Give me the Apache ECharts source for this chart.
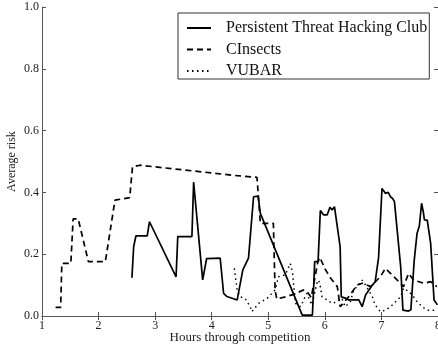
<!DOCTYPE html>
<html>
<head>
<meta charset="utf-8">
<script src="https://cdn.jsdelivr.net/npm/echarts@6/dist/echarts.min.js"></script>
<style>
  html, body { margin: 0; padding: 0; background: #fff; }
  #chart { width: 438px; height: 346px; }
</style>
</head>
<body>
<div id="chart"></div>
<script>
// Persistent Threat Hacking Club (solid)
var ptcHours = [2.59,2.62,2.66,2.86,2.90,3.37,3.40,3.65,3.68,3.84,3.91,4.15,4.21,4.27,4.45,4.47,4.55,4.65,4.74,4.82,4.86,5.60,5.78,5.80,5.82,5.88,5.92,5.98,6.04,6.09,6.13,6.17,6.20,6.27,6.29,6.36,6.42,6.60,6.66,6.72,6.78,6.84,6.89,6.95,7.01,7.07,7.12,7.16,7.20,7.23,7.34,7.38,7.48,7.52,7.58,7.63,7.67,7.71,7.74,7.76,7.81,7.87,7.93,7.99];
var ptcRisk  = [0.124,0.224,0.259,0.259,0.305,0.127,0.257,0.257,0.433,0.117,0.186,0.187,0.073,0.063,0.052,0.052,0.149,0.187,0.386,0.388,0.332,0.003,0.003,0.084,0.176,0.176,0.341,0.327,0.327,0.352,0.343,0.354,0.354,0.224,0.062,0.058,0.052,0.052,0.03,0.068,0.084,0.10,0.111,0.19,0.413,0.397,0.40,0.386,0.38,0.37,0.16,0.019,0.016,0.02,0.181,0.268,0.291,0.365,0.337,0.311,0.31,0.235,0.052,0.036];

// CInsects (dashed)
var ciHours = [1.24,1.33,1.35,1.51,1.55,1.64,1.82,2.12,2.29,2.55,2.60,2.73,4.45,4.80,4.86,5.09,5.12,5.15,5.30,5.45,5.62,5.68,5.76,5.87,5.91,6.01,6.10,6.22,6.27,6.42,6.57,6.66,6.81,6.98,7.07,7.16,7.28,7.39,7.48,7.57,7.75,7.87,7.98];
var ciRisk  = [0.028,0.028,0.17,0.17,0.314,0.314,0.176,0.176,0.375,0.383,0.483,0.488,0.454,0.449,0.30,0.30,0.084,0.055,0.062,0.07,0.084,0.08,0.06,0.17,0.19,0.15,0.123,0.095,0.03,0.062,0.10,0.106,0.095,0.127,0.154,0.138,0.116,0.095,0.138,0.116,0.106,0.111,0.095];

// VUBAR (dotted)
var vuHours = [4.40,4.45,4.50,4.59,4.68,4.71,4.83,4.98,5.12,5.18,5.30,5.39,5.43,5.48,5.57,5.68,5.77,5.86,5.89,5.92,5.95,6.04,6.13,6.22,6.30,6.36,6.45,6.51,6.57,6.66,6.72,6.84,6.89,6.98,7.07,7.16,7.25,7.34,7.39,7.48,7.57,7.63,7.72,7.81,7.93,7.98];
var vuRisk  = [0.154,0.084,0.062,0.057,0.03,0.014,0.041,0.057,0.084,0.127,0.133,0.17,0.138,0.041,0.03,0.073,0.036,0.106,0.116,0.095,0.062,0.052,0.041,0.046,0.057,0.03,0.046,0.084,0.095,0.116,0.10,0.062,0.036,0.014,0.019,0.03,0.046,0.062,0.09,0.08,0.062,0.046,0.03,0.019,0.019,0.025];

var teams = ['Persistent Threat Hacking Club', 'CInsects', 'VUBAR'];
var xTicks = [1, 2, 3, 4, 5, 6, 7, 8];
var yTicks = ['0.0', '0.2', '0.4', '0.6', '0.8', '1.0'];

var FONT = '"Liberation Serif", "DejaVu Serif", serif';

function pairs(xs, ys) {
    return xs.map(function (x, i) { return [x, ys[i]]; });
}

var chart = echarts.init(document.getElementById('chart'));

var axisBase = {
    axisLine: { show: true, lineStyle: { color: '#555', width: 1 } },
    axisTick: { show: true, inside: true, length: 4, lineStyle: { color: '#555' } },
    splitLine: { show: false }
};

var option = {
    animation: false,
    backgroundColor: '#fff',
    grid: { left: 42, right: 0, top: 7, bottom: 30, containLabel: false, outerBoundsMode: 'none' },
    legend: {
        data: teams,
        orient: 'vertical',
        left: 178,
        top: 13,
        padding: [7, 2, 0, 8],
        itemWidth: 24,
        itemHeight: 14,
        itemGap: 5.5,
        borderColor: '#333',
        borderWidth: 1,
        backgroundColor: '#fff',
        itemStyle: { opacity: 0 },
        textStyle: { fontFamily: FONT, fontSize: 16, color: '#111', padding: [0, 0, 0, 10] }
    },
    xAxis: [
        Object.assign({}, axisBase, {
            type: 'value', min: 1, max: 8, interval: 1,
            name: 'Hours through competition',
            nameLocation: 'middle', nameGap: 15, nameMoveOverlap: false,
            nameTextStyle: { fontFamily: FONT, fontSize: 13, color: '#222' },
            axisLabel: { fontFamily: FONT, fontSize: 12, color: '#222', margin: 4,
                formatter: function (v) { return xTicks.indexOf(v) >= 0 ? String(v) : ''; } }
        }),
        Object.assign({}, axisBase, {
            type: 'value', min: 1, max: 8, interval: 1, position: 'top',
            axisLabel: { show: false }
        })
    ],
    yAxis: [
        Object.assign({}, axisBase, {
            type: 'value', min: 0, max: 1, interval: 0.2,
            name: 'Average risk',
            nameLocation: 'middle', nameGap: 24, nameMoveOverlap: false,
            nameTextStyle: { fontFamily: FONT, fontSize: 12, color: '#222' },
            axisLabel: { fontFamily: FONT, fontSize: 12, color: '#222', margin: 3,
                formatter: function (v) { return yTicks[Math.round(v / 0.2)]; } }
        }),
        Object.assign({}, axisBase, {
            type: 'value', min: 0, max: 1, interval: 0.2, position: 'right',
            axisLabel: { show: false }
        })
    ],
    series: [
        {
            name: teams[0], type: 'line', symbol: 'none',
            data: pairs(ptcHours, ptcRisk),
            lineStyle: { color: '#000', width: 1.7, type: 'solid' },
            itemStyle: { color: '#000' }
        },
        {
            name: teams[1], type: 'line', symbol: 'none',
            data: pairs(ciHours, ciRisk),
            lineStyle: { color: '#000', width: 1.7, type: [6, 4] },
            itemStyle: { color: '#000' }
        },
        {
            name: teams[2], type: 'line', symbol: 'none',
            data: pairs(vuHours, vuRisk),
            lineStyle: { color: '#000', width: 1.5, type: [1.5, 3.5] },
            itemStyle: { color: '#000' }
        }
    ]
};

chart.setOption(option);
</script>
</body>
</html>
